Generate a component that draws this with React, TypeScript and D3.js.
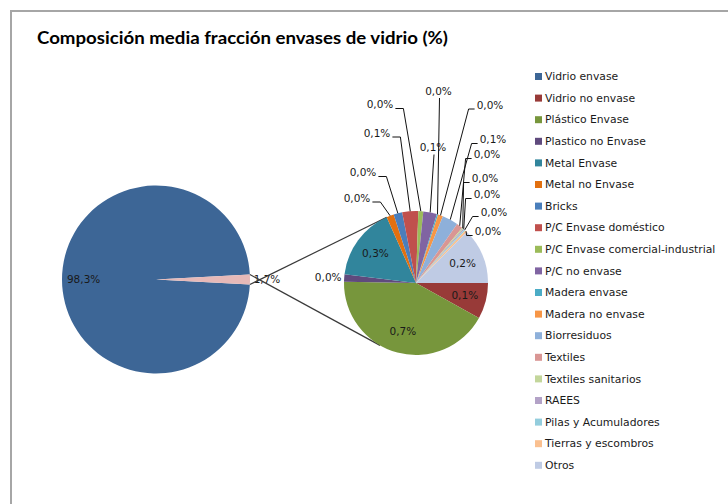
import React from "react";
import * as d3 from "d3";

// ---------- data ----------
const title = "Composición media fracción envases de vidrio (%)";

const categories = [
  "Vidrio envase",
  "Vidrio no envase",
  "Plástico Envase",
  "Plastico no Envase",
  "Metal Envase",
  "Metal no Envase",
  "Bricks",
  "P/C Envase doméstico",
  "P/C Envase comercial-industrial",
  "P/C no envase",
  "Madera envase",
  "Madera no envase",
  "Biorresiduos",
  "Textiles",
  "Textiles sanitarios",
  "RAEES",
  "Pilas y Acumuladores",
  "Tierras y escombros",
  "Otros",
];

// % values
const values = [
  98.3, 0.137, 0.718, 0.028, 0.279, 0.028, 0.033, 0.061, 0.019, 0.052, 0.005,
  0.019, 0.061, 0.024, 0.005, 0.005, 0.005, 0.009, 0.2125,
];

const colors = [
  "#3d6696", "#983a38", "#77963c", "#5f4a7d", "#31859c", "#e2700f", "#4a7ebb",
  "#c0504d", "#9bbb59", "#8064a2", "#4bacc6", "#f79646", "#8eb0da", "#d99694",
  "#c3d69b", "#b3a2c7", "#93cddd", "#fac090", "#bfcbe4",
];
const otherColor = "#e6b9b8";

// ---------- layout (not data) ----------
const W = 728;
const H = 504;
const mainPie = { cx: 156, cy: 279.5, r: 94 };
const secPie = { cx: 416, cy: 283, r: 72 };
const labelFont = "'DejaVu Sans', Verdana, sans-serif";
const labelSize = 10.5;
const labelHalfW = 13.4;

type Lay =
  | { mode: "in" }
  | { mode: "out" }
  | { mode: "L" | "R" | "T"; dx: number; dy: number };

const labelLayout: Record<string, Lay> = {
  "Vidrio no envase": { mode: "in" },
  "Plástico Envase": { mode: "in" },
  "Plastico no Envase": { mode: "out" },
  "Metal Envase": { mode: "in" },
  "Metal no Envase": { mode: "L", dx: -59, dy: -85 },
  Bricks: { mode: "L", dx: -53, dy: -110.5 },
  "P/C Envase doméstico": { mode: "L", dx: -39, dy: -150 },
  "P/C Envase comercial-industrial": { mode: "L", dx: -36, dy: -178.5 },
  "P/C no envase": { mode: "T", dx: 17, dy: -135.5 },
  "Madera envase": { mode: "T", dx: 22.5, dy: -192 },
  "Madera no envase": { mode: "R", dx: 74, dy: -178 },
  Biorresiduos: { mode: "R", dx: 77, dy: -143.5 },
  Textiles: { mode: "R", dx: 71, dy: -128.5 },
  "Textiles sanitarios": { mode: "R", dx: 69, dy: -104.5 },
  RAEES: { mode: "R", dx: 71, dy: -88.5 },
  "Pilas y Acumuladores": { mode: "R", dx: 78, dy: -70.5 },
  "Tierras y escombros": { mode: "R", dx: 72, dy: -51.5 },
  Otros: { mode: "in" },
};

const fmt = (v: number) => v.toFixed(1).replace(".", ",") + "%";
const deg = Math.PI / 180;

export default function App() {
  const total = d3.sum(values);
  const secVals = values.slice(1);
  const secCats = categories.slice(1);
  const secTotal = d3.sum(secVals);

  // main pie: [Vidrio envase, Otra], Otra centred on 3 o'clock
  const otherHalf = (secTotal / total) * Math.PI;
  const mainStart = Math.PI / 2 + otherHalf;
  const mainArcs = d3
    .pie<number>()
    .sort(null)
    .startAngle(mainStart)
    .endAngle(mainStart + 2 * Math.PI)([values[0], secTotal]);
  const mainArc = d3.arc<d3.PieArcDatum<number>>().innerRadius(0).outerRadius(mainPie.r);

  // secondary pie, starting at 3 o'clock going clockwise
  const secArcs = d3
    .pie<number>()
    .sort(null)
    .startAngle(Math.PI / 2)
    .endAngle(Math.PI / 2 + 2 * Math.PI)(secVals);
  const secArc = d3.arc<d3.PieArcDatum<number>>().innerRadius(0).outerRadius(secPie.r);
  const inArc = d3
    .arc<d3.PieArcDatum<number>>()
    .innerRadius(secPie.r * 0.7)
    .outerRadius(secPie.r * 0.7);
  const edgeArc = d3.arc<d3.PieArcDatum<number>>().innerRadius(secPie.r).outerRadius(secPie.r);
  const outArc = d3
    .arc<d3.PieArcDatum<number>>()
    .innerRadius(secPie.r + 16)
    .outerRadius(secPie.r + 16);

  // connector lines
  const pt = (cx: number, cy: number, r: number, d3angle: number) => [
    cx + r * Math.sin(d3angle),
    cy - r * Math.cos(d3angle),
  ];
  const mOther = mainArcs[1];
  const mTop = pt(mainPie.cx, mainPie.cy, mainPie.r, mOther.endAngle - 2 * Math.PI);
  const mBot = pt(mainPie.cx, mainPie.cy, mainPie.r, mOther.startAngle);
  const sTop = pt(secPie.cx, secPie.cy, secPie.r, (246 + 90) * deg);
  const sBot = pt(secPie.cx, secPie.cy, secPie.r, (120 + 90) * deg);

  // main labels
  const mainCentroidArc = d3
    .arc<d3.PieArcDatum<number>>()
    .innerRadius(mainPie.r * 0.77)
    .outerRadius(mainPie.r * 0.77);
  const mainOutArc = d3
    .arc<d3.PieArcDatum<number>>()
    .innerRadius(mainPie.r + 17)
    .outerRadius(mainPie.r + 17);
  const mainLabelPos = [mainCentroidArc.centroid(mainArcs[0]), mainOutArc.centroid(mainArcs[1])];

  const legendX = 535;
  const legendY0 = 76.5;
  const legendStep = 21.6;

  return (
    <svg
      width={W}
      height={H}
      style={{ position: "fixed", left: 0, top: 0, background: "#fff" }}
      xmlns="http://www.w3.org/2000/svg"
    >
      <rect x={0} y={0} width={W} height={H} fill="#fff" />
      <path d="M11,504 V11 H728" fill="none" stroke="#a6a6a6" strokeWidth={2} />
      <text
        x={37}
        y={44}
        fontFamily="Lato, 'Open Sans', sans-serif"
        fontWeight="bold"
        fontSize={16.5}
        textLength={411}
        lengthAdjust="spacingAndGlyphs"
        fill="#000"
      >
        {title}
      </text>

      {/* main pie */}
      <g transform={`translate(${mainPie.cx},${mainPie.cy})`}>
        {mainArcs.map((a, i) => (
          <path key={i} d={mainArc(a) || ""} fill={i === 0 ? colors[0] : otherColor} />
        ))}
      </g>
      {mainArcs.map((a, i) => (
        <text
          key={"ml" + i}
          x={mainPie.cx + mainLabelPos[i][0]}
          y={mainPie.cy + mainLabelPos[i][1]}
          dy="0.35em"
          textAnchor="middle"
          fontFamily={labelFont}
          fontSize={labelSize}
          fill="#1a1a1a"
        >
          {fmt(a.data)}
        </text>
      ))}

      {/* connector lines */}
      <line x1={mTop[0]} y1={mTop[1]} x2={sTop[0]} y2={sTop[1]} stroke="#3a3a3a" strokeWidth={1.2} />
      <line x1={mBot[0]} y1={mBot[1]} x2={sBot[0]} y2={sBot[1]} stroke="#3a3a3a" strokeWidth={1.2} />

      {/* secondary pie */}
      <g transform={`translate(${secPie.cx},${secPie.cy})`}>
        {secArcs.map((a, i) => (
          <path key={i} d={secArc(a) || ""} fill={colors[i + 1]} />
        ))}
      </g>
      {secArcs.map((a, i) => {
        const cat = secCats[i];
        const lay = labelLayout[cat];
        const txt = fmt(a.data);
        if (lay.mode === "in" || lay.mode === "out") {
          const c = (lay.mode === "in" ? inArc : outArc).centroid(a);
          return (
            <text
              key={"sl" + i}
              x={secPie.cx + c[0]}
              y={secPie.cy + c[1]}
              dy="0.35em"
              textAnchor="middle"
              fontFamily={labelFont}
              fontSize={labelSize}
              fill="#1a1a1a"
            >
              {txt}
            </text>
          );
        }
        const lx = secPie.cx + lay.dx;
        const ly = secPie.cy + lay.dy;
        const base = ly + 4;
        const e = edgeArc.centroid(a);
        const ex = secPie.cx + e[0];
        const ey = secPie.cy + e[1];
        let pts: number[][];
        if (lay.mode === "L") {
          const sx = lx + labelHalfW + 2;
          pts = [[sx, base], [sx + 8, base], [ex, ey]];
        } else if (lay.mode === "R") {
          const sx = lx - labelHalfW - 2;
          pts = [[sx, base], [sx - 6, base], [ex, ey]];
        } else {
          pts = [[lx + 1, base + 3], [ex, ey]];
        }
        return (
          <g key={"sl" + i}>
            <polyline
              points={pts.map((p) => p.join(",")).join(" ")}
              fill="none"
              stroke="#111"
              strokeWidth={1}
            />
            <text
              x={lx}
              y={ly}
              dy="0.35em"
              textAnchor="middle"
              fontFamily={labelFont}
              fontSize={labelSize}
              fill="#1a1a1a"
            >
              {txt}
            </text>
          </g>
        );
      })}

      {/* legend */}
      {categories.map((c, i) => {
        const y = legendY0 + i * legendStep;
        return (
          <g key={"lg" + i}>
            <rect x={legendX} y={y - 3.5} width={7} height={7} fill={colors[i]} />
            <text
              x={legendX + 10}
              y={y}
              dy="0.35em"
              fontFamily={labelFont}
              fontSize={10.8}
              fill="#1a1a1a"
            >
              {c}
            </text>
          </g>
        );
      })}
    </svg>
  );
}
